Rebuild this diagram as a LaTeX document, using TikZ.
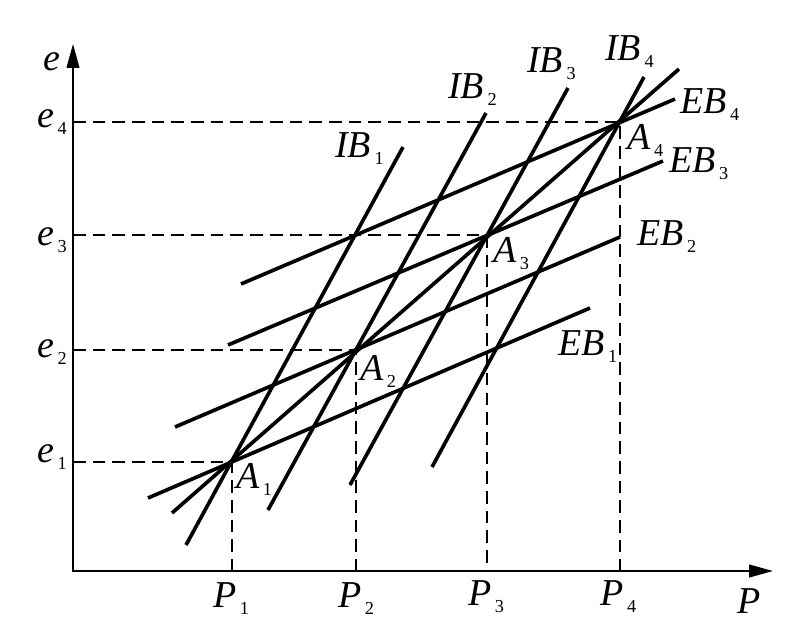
\documentclass[tikz,border=0pt]{standalone}
\usepackage{fontspec}
\setmainfont{Liberation Serif}
\usetikzlibrary{arrows.meta,positioning,calc}

\newcommand{\sbs}[1]{\hspace{2.5pt}\raisebox{-5pt}{\upshape\fontsize{13}{14}\selectfont #1}}

\tikzset{
  axisline/.style={line width=1.4pt, line join=miter},
  bandline/.style={line width=2.6pt},
  guide/.style={line width=1.3pt, dash pattern=on 9pt off 5pt},
  guidethin/.style={line width=0.8pt, dash pattern=on 9pt off 5pt},
  lbl/.style={font=\fontsize{27}{30}\selectfont\itshape, inner sep=0pt, anchor=base west},
}

\begin{document}
\begin{tikzpicture}[x=0.025cm, y=-0.025cm]
  \useasboundingbox (0,0) rectangle (800,632);

  % Operating points
  \coordinate (O) at (73,571);
  \coordinate (A1) at (232,462);
  \coordinate (A2) at (356,350);
  \coordinate (A3) at (487,235);
  \coordinate (A4) at (620,122);

  % Guides to the axes
  \foreach \k in {1,2,4} {
    \draw[guide] (O |- A\k) -- (A\k) -- (A\k |- O);
  }
  \draw[guide] (O |- A3) -- (A3);
  \draw[guidethin] (A3) -- (A3 |- O);

  % Axes
  \coordinate (ytip) at (73,44);
  \coordinate (xtip) at (773,571);
  \draw[axisline, {Triangle[length=17pt,width=9pt]}-{Triangle[length=17pt,width=9pt]}]
    (ytip) -- (O) -- (xtip);

  % EB, IB and the line through A1..A4
  \foreach \n/\xa/\ya/\xb/\yb in {
      eb1/148/498/590/308, eb2/175/427/620/237, eb3/228/345/663/161, eb4/241/284/675/99,
      ib1/186/545/403/147, ib2/268/510/486/113, ib3/350/485/568/88, ib4/432/467/644/77,
      diag/172/513/679/69} {
    \draw[bandline] (\xa,\ya) coordinate (\n s) -- (\xb,\yb) coordinate (\n e);
  }

  % Axis labels
  \node[lbl] (le) at (43,70) {e};
  \node[lbl] (le4) at (37,127) {e\sbs{4}};
  \node[lbl] (le3) at (37,245) {e\sbs{3}};
  \node[lbl] (le2) at (37,357) {e\sbs{2}};
  \node[lbl] (le1) at (37,462) {e\sbs{1}};
  \node[lbl] (lp1) at (213,607) {P\sbs{1}};
  \node[lbl] (lp2) at (338,607) {P\sbs{2}};
  \node[lbl] (lp3) at (468,605) {P\sbs{3}};
  \node[lbl] (lp4) at (600,605) {P\sbs{4}};
  \node[lbl] (lp) at (737,613) {P};

  % Point labels
  \node[lbl] (la1) at (236,488) {A\sbs{1}};
  \node[lbl] (la2) at (360,380) {A\sbs{2}};
  \node[lbl] (la3) at (493,262) {A\sbs{3}};
  \node[lbl] (la4) at (627,149) {A\sbs{4}};

  % Line labels
  \node[lbl] (lib1) at (335,157) {IB\sbs{1}};
  \node[lbl] (lib2) at (448,98) {IB\sbs{2}};
  \node[lbl] (lib3) at (527,72) {IB\sbs{3}};
  \node[lbl] (lib4) at (605,60) {IB\sbs{4}};
  \node[lbl] (leb4) at (680,113) {EB\sbs{4}};
  \node[lbl] (leb3) at (669,172) {EB\sbs{3}};
  \node[lbl] (leb2) at (637,245) {EB\sbs{2}};
  \node[lbl] (leb1) at (558,355) {EB\sbs{1}};
\end{tikzpicture}
\end{document}
